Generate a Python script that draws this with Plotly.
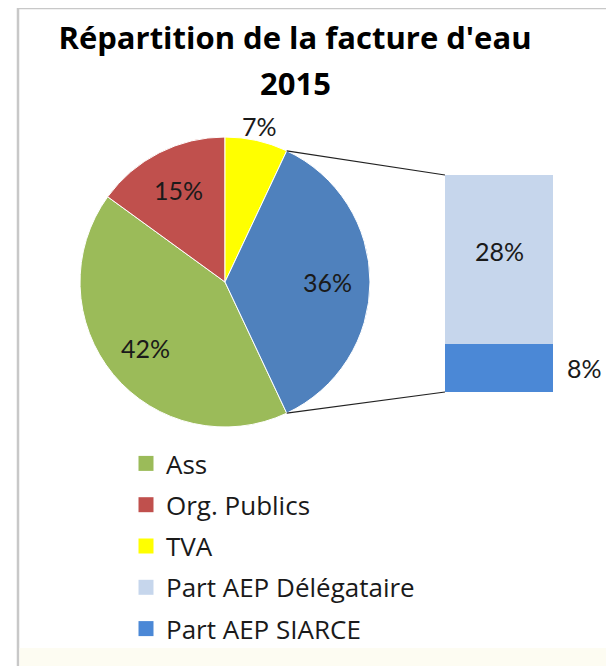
import math
import plotly.graph_objects as go

# data
pie_labels = ["Ass", "Org. Publics", "TVA", "Part AEP"]
pie_values = [42, 15, 7, 36]
pie_colors = ["#9bbb59", "#c0504d", "#ffff00", "#4f81bd"]

bar_labels = ["Part AEP SIARCE", "Part AEP Délégataire"]
bar_values = [8, 28]
bar_colors = ["#4b88d6", "#c6d6ec"]

legend_labels = ["Ass", "Org. Publics", "TVA", "Part AEP Délégataire", "Part AEP SIARCE"]
legend_colors = ["#9bbb59", "#c0504d", "#ffff00", "#c6d6ec", "#4b88d6"]

W, H = 614, 666
OFF = 8  # page body margin
FONT = "Lato"
TXT = "#1a1a1a"

# layout in page pixels
PIE_CX, PIE_CY, PIE_R = 225, 282, 145
BAR_X0, BAR_X1, BAR_Y0, BAR_Y1 = 445, 553, 175, 392


def px(x):
    return (x - OFF) / W


def py(y):
    return 1 - (y - OFF) / H


total = sum(pie_values)
other = pie_values[-1]
# the "other" slice is centred on 3 o'clock, first slice starts right after it (clockwise)
start_math = -180.0 * other / total
rotation = 90 - start_math

fig = go.Figure()

fig.add_trace(go.Pie(
    labels=pie_labels,
    values=pie_values,
    sort=False,
    direction="clockwise",
    rotation=rotation,
    marker=dict(colors=pie_colors, line=dict(color="white", width=1)),
    textinfo="none",
    hoverinfo="label+percent",
    showlegend=False,
    domain=dict(x=[px(PIE_CX - PIE_R), px(PIE_CX + PIE_R)],
                y=[py(PIE_CY + PIE_R), py(PIE_CY - PIE_R)]),
))

# stacked column for the split of the "other" slice
for lab, val, col in zip(bar_labels, bar_values, bar_colors):
    fig.add_trace(go.Bar(
        x=["Autre"], y=[val], name=lab, width=1,
        marker=dict(color=col, line=dict(width=0)),
        xaxis="x2", yaxis="y2", showlegend=False,
    ))

# legend entries
for i, (lab, col) in enumerate(zip(legend_labels, legend_colors)):
    fig.add_trace(go.Scatter(
        x=[None], y=[None], mode="markers", name=lab,
        marker=dict(symbol="square", size=15, color=col),
        legendgroup=f"g{i}", xaxis="x2", yaxis="y2",
    ))

annotations = []
# pie percentage labels
ang = start_math
for lab, val in zip(pie_labels, pie_values):
    sweep = 360.0 * val / total
    mid = math.radians(ang - sweep / 2)
    ang -= sweep
    f = 1.1 if val < 10 else 0.71
    annotations.append(dict(
        x=px(PIE_CX + f * PIE_R * math.cos(mid)),
        y=py(PIE_CY - f * PIE_R * math.sin(mid)),
        xref="paper", yref="paper", text=f"{val}%", showarrow=False,
        font=dict(family=FONT, size=25, color=TXT),
        xanchor="center", yanchor="middle",
    ))

# column labels: big one inside, small one outside on the right
base = 0
for lab, val in zip(bar_labels, bar_values):
    if val < 10:
        annotations.append(dict(
            x=0.5, y=base + val / 2, xref="x2", yref="y2", text=f"{val}%",
            showarrow=False, xanchor="left", yanchor="middle", xshift=12,
            font=dict(family=FONT, size=25, color=TXT),
        ))
    else:
        annotations.append(dict(
            x=0, y=base + val / 2, xref="x2", yref="y2", text=f"{val}%",
            showarrow=False, xanchor="center", yanchor="middle", yshift=8,
            font=dict(family=FONT, size=25, color=TXT),
        ))
    base += val

annotations.append(dict(
    x=px(295), y=py(83), xref="paper", yref="paper", text="<b>2015</b>",
    showarrow=False, xanchor="center", yanchor="middle",
    font=dict(family="Open Sans", size=31, color="black"),
))

# connector lines from the pie edge to the column corners
a = math.radians(180.0 * other / total)
shapes = [
    dict(type="rect", xref="paper", yref="paper",
         x0=px(18), x1=px(612), y0=-0.05, y1=py(8),
         line=dict(color="#c8c8c8", width=2.5), fillcolor="white", layer="below"),
    dict(type="rect", xref="paper", yref="paper",
         x0=px(19.5), x1=px(610.5), y0=-0.05, y1=py(648),
         line=dict(width=0), fillcolor="#fdfcf2", layer="below"),
]
for sgn, yb in [(1, BAR_Y0), (-1, BAR_Y1)]:
    shapes.append(dict(
        type="line", xref="paper", yref="paper",
        x0=px(PIE_CX + PIE_R * math.cos(a)), y0=py(PIE_CY - sgn * PIE_R * math.sin(a)),
        x1=px(BAR_X0), y1=py(yb),
        line=dict(color="#222222", width=1.2),
    ))

fig.update_layout(
    width=W, height=H,
    margin=dict(l=0, r=0, t=0, b=0),
    paper_bgcolor="white", plot_bgcolor="rgba(0,0,0,0)",
    barmode="stack",
    title=dict(text="<b>Répartition de la facture d'eau</b>", x=px(295), xanchor="center",
               y=py(38), yanchor="middle", yref="paper",
               font=dict(family="Open Sans", size=31, color="black")),
    xaxis2=dict(domain=[px(BAR_X0), px(BAR_X1)], range=[-0.5, 0.5], visible=False,
                anchor="y2"),
    yaxis2=dict(domain=[py(BAR_Y1), py(BAR_Y0)], range=[0, sum(bar_values)], visible=False,
                anchor="x2"),
    xaxis=dict(visible=False), yaxis=dict(visible=False),
    legend=dict(x=px(126), y=py(440), xanchor="left", yanchor="top",
                traceorder="grouped", tracegroupgap=4.5, itemsizing="trace",
                font=dict(family="Open Sans", size=26, color=TXT), bgcolor="rgba(0,0,0,0)"),
    annotations=annotations,
    shapes=shapes,
)

fig.write_html("out.html")
